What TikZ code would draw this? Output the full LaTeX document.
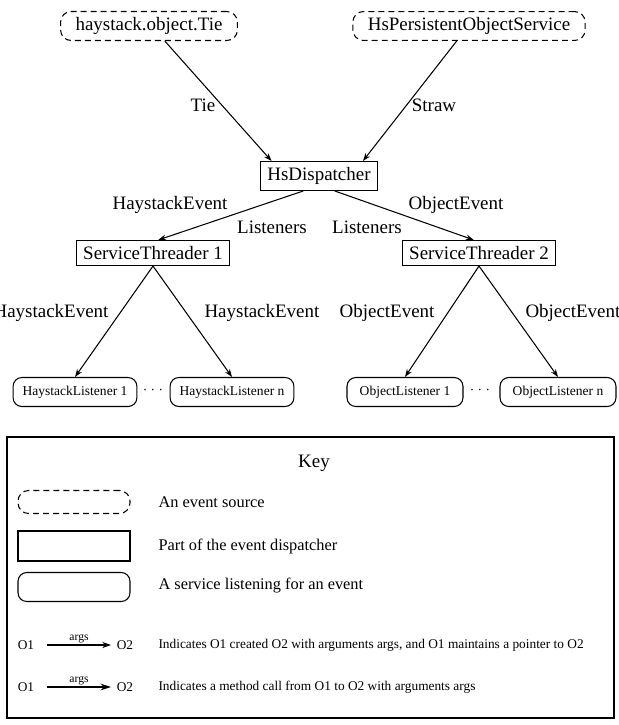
\documentclass[tikz,border=0pt]{standalone}
\usepackage{fontspec}
\setmainfont{Liberation Serif}
\usetikzlibrary{arrows.meta}

\begin{document}
\begin{tikzpicture}[
                > = {Stealth[length=4.5pt, width=3.2pt]}, % arrow head style
                x = 0.02cm, y = -0.02cm, % one unit per pixel of the sketch
                semithick, % line style
                font = \fontsize{10.8}{13}\selectfont
            ]

            \tikzstyle{source}=[
            draw = black,
            dashed, dash pattern = on 3.4pt off 2.3pt,
            rounded corners = 6pt,
            inner xsep = 0.3cm,
            minimum height = 0.48cm
            ]
            \tikzstyle{part}=[
            draw = black,
            inner xsep = 0.13cm,
            minimum height = 0.47cm
            ]
            \tikzstyle{listener}=[
            draw = black,
            rounded corners = 5pt,
            inner xsep = 0.19cm,
            minimum width = 2.32cm,
            minimum height = 0.58cm,
            font = \fontsize{7.7}{9}\selectfont
            ]
            \tikzstyle{keytext}=[anchor = west, inner sep = 0pt, font = \fontsize{9.3}{11}\selectfont]
            \tikzstyle{smalltext}=[inner sep = 0pt, font = \fontsize{7.6}{9}\selectfont]

            \useasboundingbox (0,0) rectangle (619,725);

            % event sources
            \node[source] (tie) at (149,26) {haystack.object.Tie};
            \node[source] (hpos) at (469,26) {HsPersistentObjectService};

            % dispatcher parts
            \node[part] (disp) at (319,176) {HsDispatcher};
            \node[part] (st1) at (153,253) {ServiceThreader 1};
            \node[part] (st2) at (479,253) {ServiceThreader 2};

            % listening services
            \node[listener] (hl1) at (75,392) {HaystackListener 1};
            \node[listener] (hln) at (232,392) {HaystackListener n};
            \node[listener] (ol1) at (405,392) {ObjectListener 1};
            \node[listener] (oln) at (558,392) {ObjectListener n};
            \node[inner sep = 0pt, font = \fontsize{7.7}{9}\selectfont] (hdots) at (153,392) {· · ·};
            \node[inner sep = 0pt, font = \fontsize{7.7}{9}\selectfont] (odots) at (480,392) {· · ·};

            \draw[->] ([xshift = 9]tie.south) -- ([xshift = -27]disp.north);
            \draw[->] ([xshift = -7]hpos.south) -- ([xshift = 25]disp.north);
            \draw[->] ([xshift = -9]disp.south) -- ([xshift = 3]st1.north);
            \draw[->] ([xshift = 9]disp.south) -- ([xshift = -3]st2.north);
            \draw[->] (st1.south) -- (hl1.north);
            \draw[->] (st1.south) -- (hln.north);
            \draw[->] (st2.south) -- (ol1.north);
            \draw[->] (st2.south) -- (oln.north);

            % connector labels
            \node (lTie) at (203,105) {Tie};
            \node (lStraw) at (434,105) {Straw};
            \node (lHayEv) at (170,205) {HaystackEvent};
            \node (lObjEv) at (456,205) {ObjectEvent};
            \node (lLisL) at (272,227) {Listeners};
            \node (lLisR) at (367,227) {Listeners};
            \node[anchor = east, inner sep = 0pt] (lHayEvA) at (109,313) {HaystackEvent};
            \node[anchor = west, inner sep = 0pt] (lHayEvB) at (204,313) {HaystackEvent};
            \node[anchor = east, inner sep = 0pt] (lObjEvA) at (435,313) {ObjectEvent};
            \node[anchor = west, inner sep = 0pt] (lObjEvB) at (525,313) {ObjectEvent};

            % key
            \draw (7,437) rectangle (614,718);
            \node (key) at (314,463) {Key};
            \node[source, minimum width = 2.24cm, minimum height = 0.46cm] (kSource) at (74,502) {};
            \node[part, minimum width = 2.24cm, minimum height = 0.6cm] (kPart) at (74,546) {};
            \node[listener, minimum width = 2.24cm, minimum height = 0.58cm] (kListener) at (74,587) {};
            \node[keytext] (tSource) at (158,502) {An event source};
            \node[keytext] (tPart) at (158,546) {Part of the event dispatcher};
            \node[keytext] (tListener) at (158,586) {A service listening for an event};

            \node[smalltext] (oA) at (26,645) {O1};
            \node[smalltext] (oB) at (125,645) {O2};
            \node[smalltext] (oC) at (26,687) {O1};
            \node[smalltext] (oD) at (125,687) {O2};
            \draw[-{Stealth[open, length=5pt, width=3.5pt]}] ([xshift = 7]oA.east) -- node[above = 1pt, smalltext, font = \fontsize{6.6}{8}\selectfont] {args} ([xshift = -3]oB.west);
            \draw[-{Stealth[length=6pt, width=3.8pt]}] ([xshift = 7]oC.east) -- node[above = 1pt, smalltext, font = \fontsize{6.6}{8}\selectfont] {args} ([xshift = -3]oD.west);
            \node[smalltext, anchor = west] (tCreate) at (158,645) {Indicates O1 created O2 with arguments args, and O1 maintains a pointer to O2};
            \node[smalltext, anchor = west] (tCall) at (158,687) {Indicates a method call from O1 to O2 with arguments args};
        \end{tikzpicture}
\end{document}
